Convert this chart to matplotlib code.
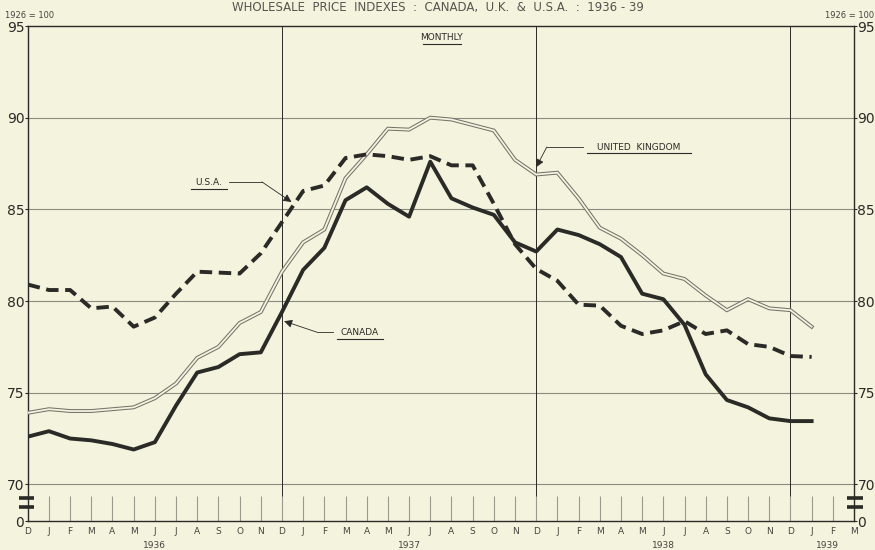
import matplotlib.pyplot as plt
from matplotlib.transforms import blended_transform_factory

# monthly index values, Dec 1935 .. Jan 1939 (1926 = 100)
canada = [72.6, 72.9, 72.5, 72.4, 72.2, 71.9, 72.3, 74.3, 76.1, 76.4, 77.1, 77.2,
          79.4, 81.7, 82.9, 85.5, 86.2, 85.3, 84.6, 87.6, 85.6, 85.1, 84.7, 83.2,
          82.7, 83.9, 83.6, 83.1, 82.4, 80.4, 80.1, 78.7, 76.0, 74.6, 74.2, 73.6,
          73.45, 73.45]
usa = [80.9, 80.6, 80.6, 79.6, 79.7, 78.6, 79.1, 80.4, 81.6, 81.55, 81.5, 82.6,
       84.3, 86.0, 86.3, 87.8, 88.0, 87.9, 87.7, 87.9, 87.4, 87.4, 85.3, 83.1,
       81.75, 81.1, 79.8, 79.75, 78.65, 78.2, 78.4, 78.9, 78.2, 78.4, 77.65, 77.5,
       77.0, 76.95]
uk = [73.9, 74.1, 74.0, 74.0, 74.1, 74.2, 74.7, 75.5, 76.9, 77.5, 78.8, 79.4,
      81.6, 83.2, 83.9, 86.7, 88.0, 89.4, 89.35, 90.0, 89.9, 89.6, 89.3, 87.7,
      86.9, 87.0, 85.6, 84.0, 83.4, 82.5, 81.5, 81.2, 80.3, 79.5, 80.1, 79.6,
      79.5, 78.6]
month_labels = ['D'] + ['J', 'F', 'M', 'A', 'M', 'J', 'J', 'A', 'S', 'O', 'N', 'D'] * 3 + ['J', 'F', 'M']
years = ['1936', '1937', '1938', '1939']
year_pos = [6, 18, 30, 37.75]
yticks = [95, 90, 85, 80, 75, 70]

bg = '#f4f3de'
ink = '#2a2a26'
grid = '#8a8a80'

fig = plt.figure(figsize=(8.75, 5.5), dpi=100, facecolor=bg)
ax = fig.add_axes([0.0317, 0.0527, 0.9443, 0.9], facecolor=bg)
ax.set_xlim(0, 39)
ax.set_ylim(68, 95)

months = list(range(len(canada)))

# grid
for y in yticks[1:]:
    ax.axhline(y, color=grid, lw=0.8, zorder=1)
for x in [12, 24, 36]:
    ax.axvline(x, color=ink, lw=0.7, zorder=1)

# little month ticks in the broken part of the axis
ax.vlines(range(1, 39), 68, 69.35, color='#9a9a90', lw=0.8, zorder=1)

# UK as a hollow double line
ax.plot(months, uk, color='#74746c', lw=2.8, solid_joinstyle='miter', zorder=3)
ax.plot(months, uk, color=bg, lw=1.3, solid_joinstyle='miter', zorder=3)
ax.plot(months, usa, color=ink, lw=2.8, dashes=(3.2, 1.7), zorder=4)
ax.plot(months, canada, color=ink, lw=2.8, zorder=5)

for s in ax.spines.values():
    s.set_color(ink)
    s.set_linewidth(1.0)

ax.set_xticks([])
ax.set_yticks(yticks + [68])
ax.set_yticklabels([str(v) for v in yticks] + ['0'])
ax.tick_params(axis='y', length=2, width=0.8, color=ink, pad=0.5, labelsize=10,
               labelcolor=ink, left=True, right=True, labelleft=True, labelright=True)

# axis break marks
tr = blended_transform_factory(ax.transAxes, ax.transData)
for xa in [(-0.011, 0.008), (0.992, 1.011)]:
    for yb in [69.25, 68.76]:
        ax.plot(xa, [yb, yb], color=ink, lw=2.6, transform=tr, clip_on=False,
                solid_capstyle='butt', zorder=6)

# month and year labels
for i, m in enumerate(month_labels):
    ax.text(i, 67.45, m, ha='center', va='center', fontsize=6.5, color='#444440')
for pos, yr in zip(year_pos, years):
    ax.text(pos, 66.65, yr, ha='center', va='center', fontsize=6.5, color='#444440')

# annotations
arrow = dict(arrowstyle='-|>', color=ink, lw=0.6, mutation_scale=12, shrinkA=0, shrinkB=0)

ax.text(19.55, 94.35, 'MONTHLY', ha='center', va='center', fontsize=6.5, color=ink)
ax.plot([18.65, 20.45], [94.0, 94.0], color=ink, lw=0.8)

ax.text(8.55, 86.45, 'U.S.A.', ha='center', va='center', fontsize=6.5, color=ink)
ax.plot([7.7, 9.4], [86.1, 86.1], color=ink, lw=0.8)
ax.plot([9.5, 11.05], [86.5, 86.5], color=ink, lw=0.6)
ax.annotate('', xy=(12.45, 85.4), xytext=(11.05, 86.5), arrowprops=arrow)

ax.text(15.65, 78.3, 'CANADA', ha='center', va='center', fontsize=6.5, color=ink)
ax.plot([14.6, 16.75], [77.95, 77.95], color=ink, lw=0.8)
ax.plot([13.65, 14.4], [78.3, 78.3], color=ink, lw=0.6)
ax.annotate('', xy=(12.1, 78.9), xytext=(13.65, 78.3), arrowprops=arrow)

ax.text(28.85, 88.4, 'UNITED  KINGDOM', ha='center', va='center', fontsize=6.5, color=ink)
ax.plot([26.4, 31.3], [88.05, 88.05], color=ink, lw=0.8)
ax.plot([24.5, 26.2], [88.4, 88.4], color=ink, lw=0.6)
ax.annotate('', xy=(24.0, 87.3), xytext=(24.5, 88.4), arrowprops=arrow)

# header texts
fig.text(5 / 875, 1 - 15 / 550, '1926 = 100', ha='left', va='center', fontsize=6, color='#444440')
fig.text(0.999, 1 - 15 / 550, '1926 = 100', ha='right', va='center', fontsize=6, color='#444440')
fig.text(0.5, 0.998, 'WHOLESALE  PRICE  INDEXES  :  CANADA,  U.K.  &  U.S.A.  :  1936 - 39',
         ha='center', va='top', fontsize=8.5, color='#55554f')

fig.savefig('out.png', dpi=100, facecolor=bg)
